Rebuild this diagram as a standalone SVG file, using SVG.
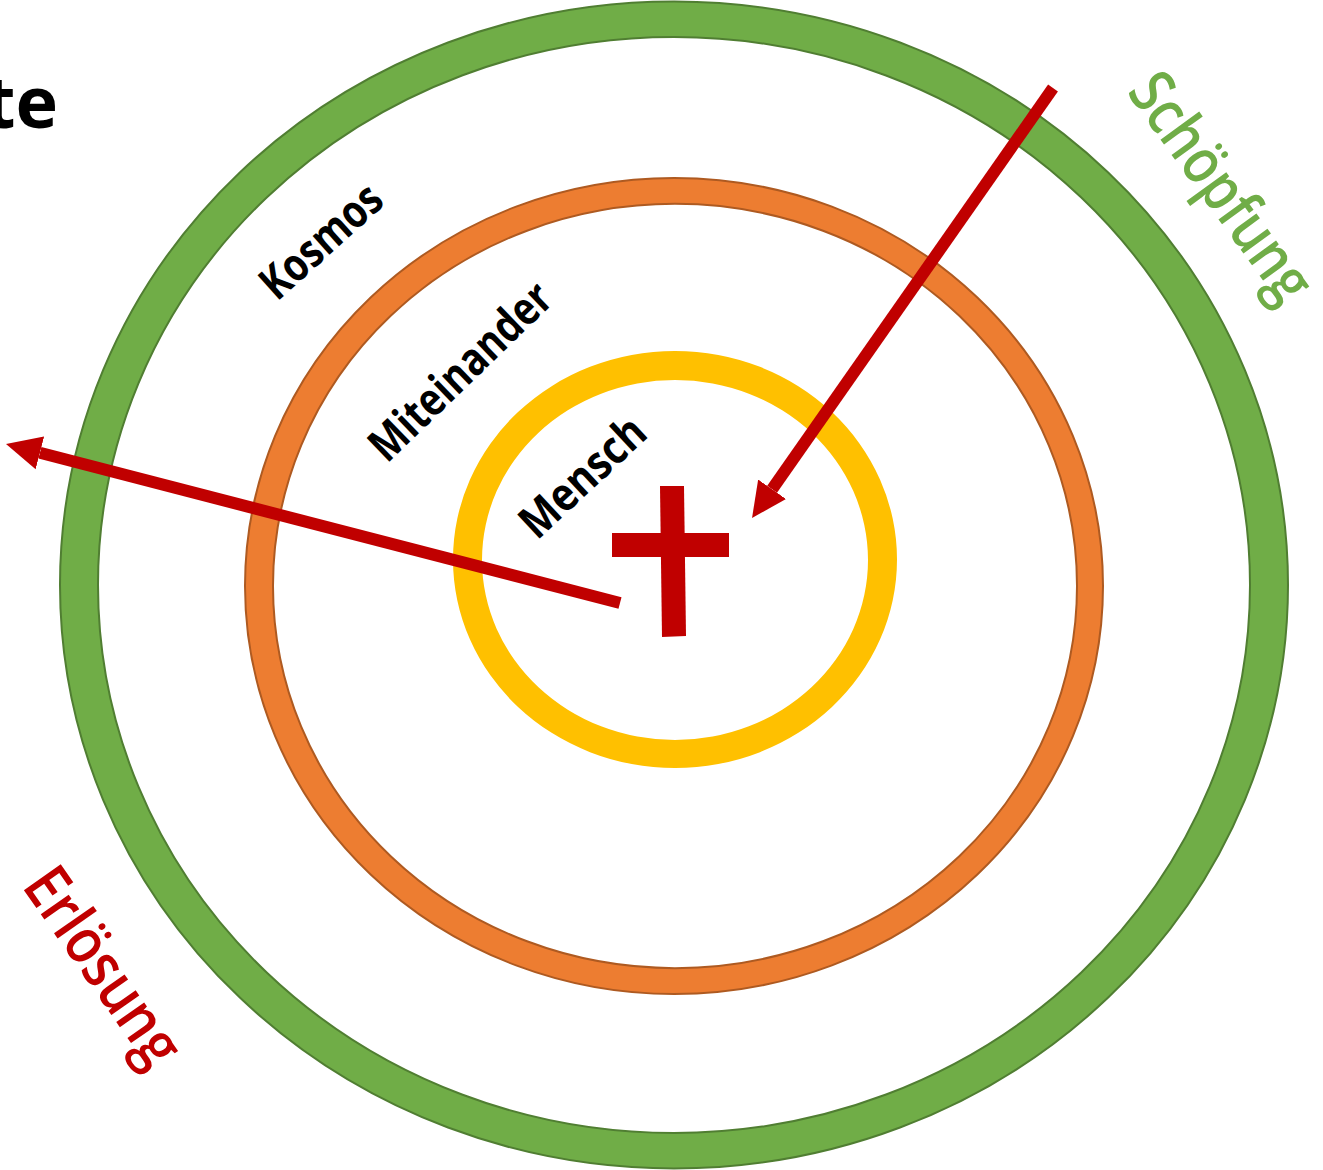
<svg xmlns="http://www.w3.org/2000/svg" width="1323" height="1170" viewBox="0 0 1323 1170">
<style>
.ring{fill-rule:evenodd}
.green{fill:#70AD47;stroke:#507E32;stroke-width:2}
.orange{fill:#ED7D31;stroke:#AE5A21;stroke-width:2}
.yellow{fill:#FFC000}
.lbl{font-family:"Open Sans","Liberation Sans",sans-serif;font-weight:700;font-size:46px;fill:#000}
.big{font-family:"Open Sans","Liberation Sans",sans-serif;font-weight:600;font-size:63px}
.arrow{stroke:#C00000;stroke-width:12;fill:none;stroke-linecap:butt}
.red{fill:#C00000}
</style>
<defs>
<marker id="head" markerUnits="userSpaceOnUse" viewBox="0 -18 36 36" refX="0" refY="0" markerWidth="36" markerHeight="36" orient="auto">
<path d="M0,-17 L35,0 L0,17 Z" fill="#C00000"/>
</marker>
</defs>
<rect width="1323" height="1170" fill="#fff"/>
<g id="title">
<text x="58" y="128" text-anchor="end" style="font-family:'Open Sans','Liberation Sans',sans-serif;font-weight:700;font-size:72px" fill="#000">te</text>
</g>
<g id="schoepfung-ring">
<path class="ring green" d="M60,585 A614,583.5 0 1,0 1288,585 A614,583.5 0 1,0 60,585 Z M98,585 A576,548 0 1,0 1250,585 A576,548 0 1,0 98,585 Z"/>
</g>
<g id="miteinander-ring">
<path class="ring orange" d="M245,586 A429,408 0 1,0 1103,586 A429,408 0 1,0 245,586 Z M273,586 A402,382 0 1,0 1077,586 A402,382 0 1,0 273,586 Z"/>
</g>
<g id="mensch-ring">
<path class="ring yellow" d="M453,559.5 A222,208.5 0 1,0 897,559.5 A222,208.5 0 1,0 453,559.5 Z M482,560 A193,180 0 1,0 868,560 A193,180 0 1,0 482,560 Z"/>
</g>
<g id="labels">
<text class="lbl" transform="translate(277,302) rotate(-42)" textLength="147" lengthAdjust="spacingAndGlyphs">Kosmos</text>
<text class="lbl" transform="translate(387,464) rotate(-44)" textLength="234" lengthAdjust="spacingAndGlyphs">Miteinander</text>
<text class="lbl" transform="translate(537,541) rotate(-43)" textLength="154" lengthAdjust="spacingAndGlyphs">Mensch</text>
</g>
<g id="schoepfung">
<text class="big" fill="#70AD47" transform="translate(1126,92) rotate(54)" textLength="266" lengthAdjust="spacingAndGlyphs">Schöpfung</text>
</g>
<g id="erloesung">
<text class="big" fill="#C00000" transform="translate(21,886) rotate(55)" textLength="226" lengthAdjust="spacingAndGlyphs">Erlösung</text>
</g>
<g id="cross">
<polygon class="red" points="660,486 684,486 686,636 662,637"/>
<polygon class="red" points="612,533 729,533 729,557 612,557"/>
</g>
<g id="connectors">
<line class="arrow" x1="620" y1="603" x2="39.9" y2="452.8" marker-end="url(#head)"/>
<line class="arrow" x1="1053" y1="88" x2="772.1" y2="489.3" marker-end="url(#head)"/>
</g>
</svg>
